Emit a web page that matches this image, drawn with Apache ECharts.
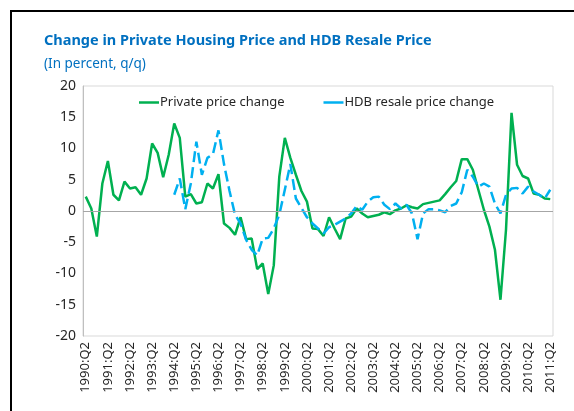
<!DOCTYPE html>
<html>
<head>
<meta charset="utf-8">
<script src="https://cdn.jsdelivr.net/npm/echarts@6/dist/echarts.min.js"></script>
<style>
html,body{margin:0;padding:0;background:#fff;}
#chart{width:574px;height:411px;}
</style>
</head>
<body>
<div id="chart"></div>
<script>
// Quarterly categories 1990:Q2 .. 2011:Q2
const startYear = 1990, startQuarter = 2, nPoints = 85;
const categories = [];
for (let k = 0; k < nPoints; k++) {
  const q = startQuarter - 1 + k;
  categories.push((startYear + Math.floor(q / 4)) + ':Q' + (q % 4 + 1));
}

const seriesNames = ['Private price change', 'HDB resale price change'];

const privateChange = [
  2.3, 0.4, -4.1, 4.4, 8.0, 2.6, 1.7, 4.7, 3.6, 3.8,
  2.6, 5.2, 10.8, 9.3, 5.4, 9.0, 14.0, 11.7, 2.3, 2.7,
  1.2, 1.4, 4.4, 3.6, 5.9, -2.0, -2.7, -3.8, -1.0, -4.5,
  -4.4, -9.3, -8.4, -13.3, -8.7, 5.5, 11.7, 8.5, 5.8, 3.2,
  1.5, -2.8, -2.9, -4.0, -1.0, -2.8, -4.5, -1.2, -0.9, 0.4,
  -0.4, -1.0, -0.8, -0.6, -0.2, -0.5, 0.1, 0.4, 0.9, 0.6,
  0.4, 1.1, 1.3, 1.5, 1.7, 2.7, 3.8, 4.8, 8.3, 8.3,
  6.6, 3.4, 0.2, -2.5, -6.2, -14.2, -3.0, 15.7, 7.4, 5.6,
  5.2, 2.8, 2.6, 2.0, 1.9
];

const hdbChange = [
  null, null, null, null, null, null, null, null, null, null,
  null, null, null, null, null, null, 2.6, 5.2, 0.3, 4.4,
  11.1, 5.8, 8.5, 9.1, 12.9, 7.5, 3.2, -0.6, -2.0, -4.6,
  -6.2, -7.1, -4.4, -4.3, -2.8, -0.6, 3.4, 7.5, 2.0, 0.5,
  -1.0, -2.0, -2.8, -3.6, -2.6, -2.2, -1.7, -1.2, -0.4, 0.8,
  0.2, 1.5, 2.2, 2.3, 1.0, 0.3, 1.2, 0.4, 1.0, -0.4,
  -4.5, -0.4, 0.3, 0.3, 0.1, -0.2, 0.8, 1.2, 3.0, 6.6,
  5.5, 3.9, 4.4, 3.9, 1.2, -0.4, 2.6, 3.6, 3.7, 2.8,
  3.9, 3.1, 2.6, 2.0, 3.4
];

const yMin = -20, yMax = 20, yStep = 5;

const chart = echarts.init(document.getElementById('chart'), null, {renderer: 'canvas'});
const FONT = '"Noto Sans", "DejaVu Sans", sans-serif';

chart.setOption({
  animation: false,
  backgroundColor: '#ffffff',
  title: [
    {
      text: 'Change in Private Housing Price and HDB Resale Price',
      left: 44, top: 33, padding: 0,
      textStyle: {color: '#0070C0', fontSize: 14.5, fontWeight: 'bold', fontFamily: FONT}
    },
    {
      text: '(In percent, q/q)',
      left: 44, top: 57, padding: 0,
      textStyle: {color: '#0070C0', fontSize: 13.5, fontWeight: 'normal', fontFamily: FONT}
    }
  ],
  graphic: [
    {type: 'line', shape: {x1: 10, y1: 11, x2: 574, y2: 11}, style: {stroke: '#000', lineWidth: 2}, silent: true},
    {type: 'line', shape: {x1: 11, y1: 10, x2: 11, y2: 411}, style: {stroke: '#000', lineWidth: 2}, silent: true}
  ],
  legend: {
    left: 139, top: 96, padding: 0,
    icon: 'rect',
    itemWidth: 20, itemHeight: 2.5, itemGap: 39,
    textStyle: {color: '#262626', fontSize: 13, fontFamily: FONT, padding: [0, 0, 0, -4]},
    data: [seriesNames[0], seriesNames[1]]
  },
  grid: {
    left: 83, right: 21, top: 86, bottom: 75,
    show: true, borderColor: '#D9D9D9', borderWidth: 1,
    containLabel: false
  },
  xAxis: {
    type: 'category',
    data: categories,
    boundaryGap: true,
    axisLine: {show: false},
    axisTick: {show: false},
    splitLine: {show: false},
    axisLabel: {
      interval: 3, rotate: 90, margin: 6,
      color: '#262626', fontSize: 13, fontFamily: FONT
    }
  },
  yAxis: {
    type: 'value',
    min: yMin, max: yMax, interval: yStep,
    axisLine: {show: true, lineStyle: {color: '#BFBFBF', width: 1}},
    axisTick: {show: false},
    splitLine: {show: false},
    axisLabel: {color: '#262626', fontSize: 14, fontFamily: FONT, margin: 7}
  },
  series: [
    {
      name: seriesNames[0],
      type: 'line',
      data: privateChange,
      symbol: 'none',
      lineStyle: {color: '#00B050', width: 2.5},
      itemStyle: {color: '#00B050'},
      z: 3,
      markLine: {
        silent: true, symbol: 'none',
        label: {show: false},
        lineStyle: {color: '#A6A6A6', width: 1, type: 'solid'},
        data: [{yAxis: 0}]
      }
    },
    {
      name: seriesNames[1],
      type: 'line',
      data: hdbChange,
      symbol: 'none',
      connectNulls: false,
      lineStyle: {color: '#00B0F0', width: 2.5, type: [11, 5]},
      itemStyle: {color: '#00B0F0'},
      z: 4
    }
  ]
});
</script>
</body>
</html>
